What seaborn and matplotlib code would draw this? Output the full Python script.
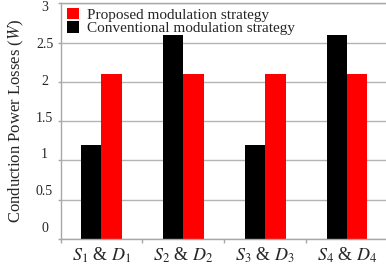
import matplotlib
matplotlib.use("Agg")
import matplotlib.pyplot as plt
import matplotlib.transforms as mtransforms
import pandas as pd
import seaborn as sns

# Data
pairs = ["$S_1$ & $D_1$", "$S_2$ & $D_2$", "$S_3$ & $D_3$", "$S_4$ & $D_4$"]
conventional = [1.2, 2.6, 1.2, 2.6]
proposed = [2.1, 2.1, 2.1, 2.1]
conv_name = "Conventional modulation strategy"
prop_name = "Proposed modulation strategy"
yticks = [0, 0.5, 1, 1.5, 2, 2.5, 3]

df = pd.DataFrame({
    "pair": pairs * 2,
    "loss": conventional + proposed,
    "strategy": [conv_name] * 4 + [prop_name] * 4,
})

sns.set_style("white")
plt.rcParams["font.family"] = ["Liberation Serif", "DejaVu Serif"]
plt.rcParams["mathtext.fontset"] = "stix"

fig = plt.figure(figsize=(3.86, 2.66), dpi=100)
ax = fig.add_axes([60.5 / 386, 27 / 266, 1 - 60.5 / 386, 1 - 27 / 266 - 3.3 / 266])

sns.barplot(data=df, x="pair", y="loss", hue="strategy",
            hue_order=[conv_name, prop_name],
            palette={conv_name: "black", prop_name: "red"},
            width=0.5, linewidth=0, saturation=1, ax=ax, legend=True)

ax.set_ylim(0, 3)
ax.set_xlim(-0.5, 3.476)
ax.set_yticks(yticks)
ax.set_yticklabels(["0", "0.5", "1", "1.5", "2", "2.5", "3"])
ax.yaxis.grid(True, color="#b4b4b4", linewidth=1)
ax.set_axisbelow(True)

for s in ["left", "top", "bottom"]:
    ax.spines[s].set_color("#a8a8a8")
    ax.spines[s].set_linewidth(1)
ax.spines["right"].set_visible(False)

# y ticks
ax.tick_params(axis="y", direction="out", length=2.5, width=1, color="#a8a8a8",
               left=True, labelsize=10, pad=9)
for lab, v in zip(ax.get_yticklabels(), yticks):
    lab.set_ha("center")
    dy = (5 * (3 - v) - 3) * 0.72
    lab.set_transform(lab.get_transform() +
                      mtransforms.ScaledTranslation(0, dy / 72, fig.dpi_scale_trans))

# x ticks: labels at centers, marks at the boundaries
ax.tick_params(axis="x", which="major", length=0, labelsize=13, pad=5)
ax.set_xticks([-0.5, 0.5, 1.5, 2.5], minor=True)
ax.tick_params(axis="x", which="minor", direction="out", length=3, width=1,
               color="#a8a8a8", bottom=True)
ax.set_xlabel("")
ax.set_ylabel("Conduction Power Losses ($W$)", fontsize=12)
ax.yaxis.set_label_coords(-0.105, 0.5)

handles, labels = ax.get_legend_handles_labels()
ax.legend(handles[::-1], labels[::-1], loc="upper left", frameon=False,
          bbox_to_anchor=(0.01, 0.995), fontsize=11, handlelength=0.8,
          handleheight=0.8, handletextpad=0.55, labelspacing=-0.04,
          borderpad=0.2, borderaxespad=0)

fig.savefig("out.png", dpi=100)
